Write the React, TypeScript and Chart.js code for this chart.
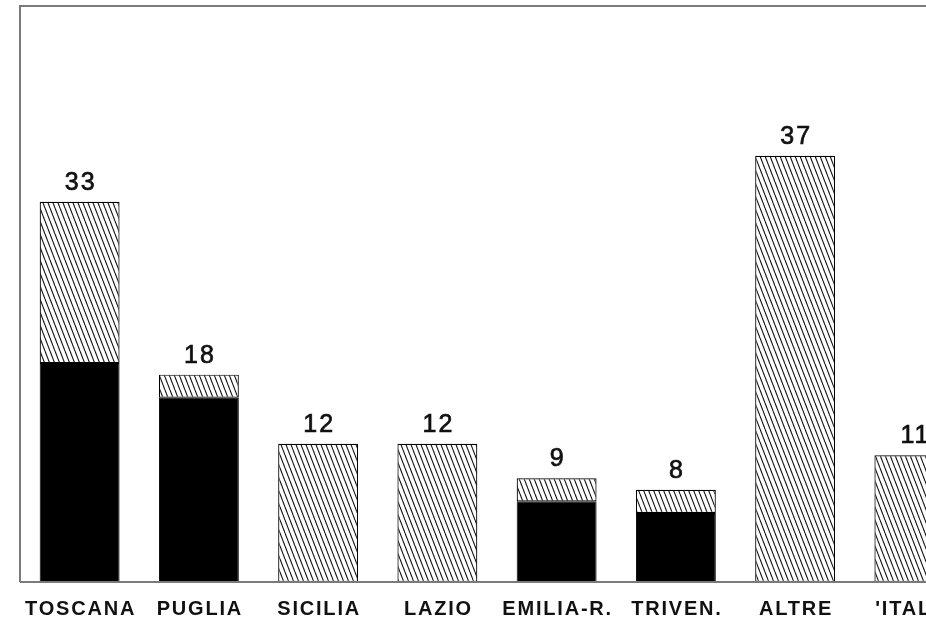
import React, { useEffect, useRef } from "react";
import { Chart, registerables } from "chart.js";

Chart.register(...registerables);

const categories = ["TOSCANA", "PUGLIA", "SICILIA", "LAZIO", "EMILIA-R.", "TRIVEN.", "ALTRE", "'ITALIA"];
const blackValues = [19, 16, 0, 0, 7, 6, 0, 0];
const hatchValues = [14, 2, 12, 12, 2, 2, 37, 11];
const totalLabels = ["33", "18", "12", "12", "9", "8", "37", "11"];
const yMax = 50;

function makeHatch(): CanvasPattern | string {
  const w = 5;
  const h = 13;
  const c = document.createElement("canvas");
  c.width = w;
  c.height = h;
  const g = c.getContext("2d");
  if (!g) return "#888";
  g.fillStyle = "#ffffff";
  g.fillRect(0, 0, w, h);
  g.strokeStyle = "#111";
  g.lineWidth = 1.1;
  for (const dx of [-w, 0, w]) {
    g.beginPath();
    g.moveTo(dx, 0);
    g.lineTo(dx + w, h);
    g.stroke();
  }
  const p = g.createPattern(c, "repeat");
  return p || "#888";
}

export default function App() {
  const ref = useRef<HTMLCanvasElement | null>(null);

  useEffect(() => {
    const canvas = ref.current;
    if (!canvas) return;
    const hatch = makeHatch();

    const framePlugin = {
      id: "frame",
      afterDraw(chart: any) {
        const { ctx, chartArea } = chart;
        ctx.save();
        ctx.strokeStyle = "#7a7a7a";
        ctx.lineWidth = 2;
        ctx.beginPath();
        ctx.moveTo(chartArea.left, chartArea.bottom);
        ctx.lineTo(chartArea.left, chartArea.top);
        ctx.lineTo(chart.width, chartArea.top);
        ctx.moveTo(chartArea.left, chartArea.bottom);
        ctx.lineTo(chart.width, chartArea.bottom);
        ctx.stroke();

        const xs = chart.scales.x;
        const ys = chart.scales.y;
        ctx.fillStyle = "#111";
        ctx.strokeStyle = "#111";
        ctx.textAlign = "center";
        ctx.textBaseline = "alphabetic";
        // value labels
        ctx.font = "25px 'Liberation Sans', Arial, sans-serif";
        ctx.lineWidth = 0.7;
        (ctx as any).letterSpacing = "2px";
        categories.forEach((_, i) => {
          const total = blackValues[i] + hatchValues[i];
          const x = xs.getPixelForValue(i);
          const y = ys.getPixelForValue(total);
          ctx.fillText(totalLabels[i], x + 1, y - 12);
          ctx.strokeText(totalLabels[i], x + 1, y - 12);
        });
        // category labels
        ctx.font = "bold 20px 'Liberation Sans', Arial, sans-serif";
        (ctx as any).letterSpacing = "1.8px";
        categories.forEach((lab, i) => {
          const x = xs.getPixelForValue(i);
          ctx.fillText(lab, x + 1, chartArea.bottom + 33);
        });
        (ctx as any).letterSpacing = "0px";
        ctx.restore();
      },
    };

    const chart = new Chart(canvas, {
      type: "bar",
      data: {
        labels: categories,
        datasets: [
          {
            label: "nero",
            data: blackValues,
            backgroundColor: "#000",
            borderColor: "#000",
            borderWidth: 1,
            borderSkipped: false,
            barPercentage: 0.67,
            categoryPercentage: 1,
          },
          {
            label: "tratteggio",
            data: hatchValues,
            backgroundColor: hatch as any,
            borderColor: "#000",
            borderWidth: 1.2,
            borderSkipped: false,
            barPercentage: 0.67,
            categoryPercentage: 1,
          },
        ],
      },
      options: {
        responsive: false,
        animation: false,
        layout: { padding: { left: 20, right: 16, top: 6, bottom: 42 } },
        plugins: {
          legend: { display: false },
          tooltip: { enabled: false },
        },
        scales: {
          x: {
            display: false,
            stacked: true,
            grid: { display: false },
          },
          y: {
            display: false,
            stacked: true,
            min: 0,
            max: yMax,
            grid: { display: false },
          },
        },
      },
      plugins: [framePlugin],
    });
    return () => chart.destroy();
  }, []);

  return (
    <div
      style={{
        position: "fixed",
        left: 0,
        top: 0,
        width: 926,
        height: 624,
        overflow: "hidden",
        background: "#fff",
      }}
    >
      <canvas ref={ref} width={990} height={624} style={{ width: 990, height: 624, display: "block" }} />
    </div>
  );
}
